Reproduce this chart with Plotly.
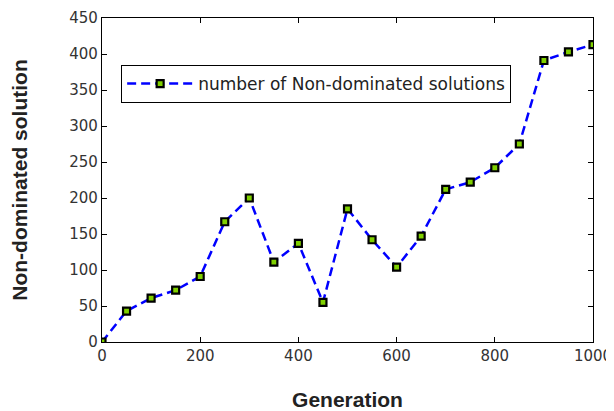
import plotly.graph_objects as go

generation = [0, 50, 100, 150, 200, 250, 300, 350, 400, 450, 500,
              550, 600, 650, 700, 750, 800, 850, 900, 950, 1000]
non_dominated = [0, 43, 61, 72, 91, 167, 200, 111, 137, 55, 185,
                 142, 104, 147, 212, 222, 242, 275, 391, 403, 413]

x_ticks = [0, 200, 400, 600, 800, 1000]
y_ticks = [0, 50, 100, 150, 200, 250, 300, 350, 400, 450]

fig = go.Figure()
fig.add_trace(go.Scatter(
    x=generation, y=non_dominated, mode="lines+markers",
    name="number of Non-dominated solutions",
    line=dict(color="#0000ff", width=2.5, dash="9px,5px"),
    marker=dict(symbol="square", size=7, color="#7fd000",
                line=dict(color="black", width=2.2)),
))

tick_font = dict(family="DejaVu Sans", size=15, color="#333")
title_font = dict(family="Liberation Sans, Arial", size=21, color="#222")
axis_common = dict(
    showgrid=False, zeroline=False, showline=True, linecolor="black",
    linewidth=1.2, mirror="ticks", ticks="inside", ticklen=5,
    tickcolor="black", tickfont=tick_font, automargin=False,
    ticklabeloverflow="allow",
)

# page body has an 8px default margin, so the figure is offset by 8px
fig.update_layout(
    width=606, height=403,
    margin=dict(l=94, r=21, t=10, b=69),
    paper_bgcolor="white", plot_bgcolor="white",
    showlegend=True,
    legend=dict(x=0.039, y=0.855, xanchor="left", yanchor="top",
                bordercolor="black", borderwidth=1, bgcolor="white",
                itemwidth=66, tracegroupgap=0,
                font=dict(family="DejaVu Sans", size=17, color="#222")),
    xaxis=dict(range=[0, 1000], tickvals=x_ticks,
               title=dict(text="<b>Generation</b>", standoff=29, font=title_font),
               **axis_common),
    yaxis=dict(range=[0, 450], tickvals=y_ticks,
               title=dict(text="<b>Non-dominated solution</b>", standoff=42, font=title_font),
               **axis_common),
)

fig.write_html("out.html")
